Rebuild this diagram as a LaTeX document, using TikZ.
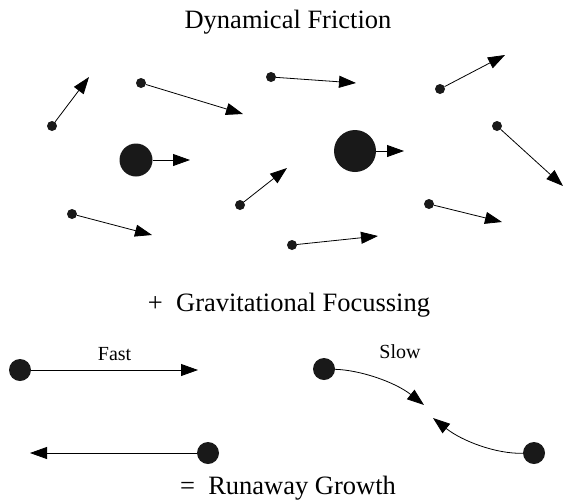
\documentclass[tikz,border=0pt]{standalone}
\usepackage{fontspec}
\setmainfont{Liberation Serif}
\usetikzlibrary{arrows.meta}

\tikzset{
  dot/.style={circle, fill=black!90, inner sep=0pt, minimum size=10pt},
  bigdot/.style={circle, fill=black!90, inner sep=0pt, minimum size=22pt},
  vec/.style={-{Triangle[length=17pt, width=12pt]}, line width=0.8pt},
  title/.style={font=\fontsize{26.5}{30}\selectfont},
  lbl/.style={font=\fontsize{20}{24}\selectfont}
}

\begin{document}
\begin{tikzpicture}[x=1pt, y=-1pt]
\useasboundingbox (0,0) rectangle (564,501);

% field particles: dot position / tip of velocity
\foreach \i/\x/\y/\tx/\ty in {1/52/126/89/77, 2/141/83/243/114, 3/271/77/356/83,
    4/440/89/505/55, 5/497/126/563/186, 8/240/205/287/168, 9/72/214/152/235,
    10/429/204/502/222, 11/292/245/378/236} {
  \node[dot] (p\i) at (\x,\y) {};
  \coordinate (t\i) at (\tx,\ty);
  \draw[vec] (p\i) -- (t\i);
}

% massive bodies
\node[bigdot, minimum size=33pt] (m1) at (136,160) {};
\coordinate (tm1) at (190,160);
\draw[vec] (m1) -- (tm1);
\node[bigdot, minimum size=42pt] (m2) at (355,151) {};
\coordinate (tm2) at (404,151);
\draw[vec] (m2) -- (tm2);

\node[title] (df) at (288,22) {Dynamical Friction};
\node[title] (gf) at (289,305) {+\ \ Gravitational Focussing};
\node[title] (rg) at (288,488) {=\ \ Runaway Growth};

% fast encounters
\node[bigdot] (f1) at (20,370) {};
\coordinate (ft1) at (198,370);
\draw[vec] (f1) -- node[lbl, above=6pt, pos=0.5] {Fast} (ft1);
\node[bigdot] (f2) at (208,453) {};
\coordinate (ft2) at (30,453);
\draw[vec] (f2) -- (ft2);

% slow encounters
\node[bigdot] (s1) at (324,369) {};
\coordinate (st1) at (424,405);
\draw[vec] (s1) .. controls (360,370) and (395,382) .. (st1);
\node[lbl] (slow) at (400,352) {Slow};
\node[bigdot] (s2) at (534,453) {};
\coordinate (st2) at (433,418);
\draw[vec] (s2) .. controls (496,454) and (462,441) .. (st2);
\end{tikzpicture}
\end{document}
